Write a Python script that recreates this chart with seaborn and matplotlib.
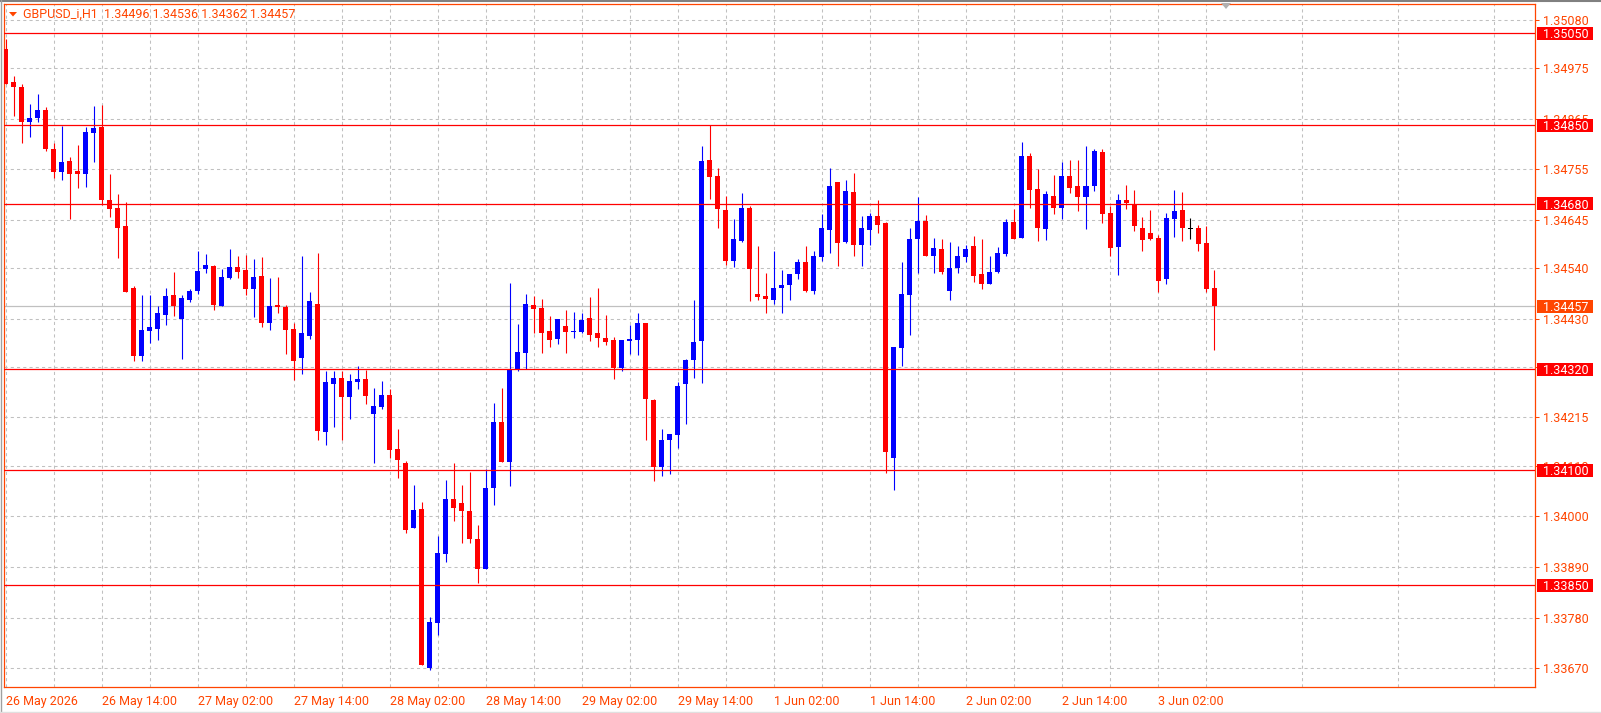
import numpy as np
import pandas as pd
import seaborn as sns
import matplotlib.pyplot as plt
import matplotlib.patches as mpatches
import matplotlib.transforms as mtransforms

# GBPUSD_i, H1 bars: 26 May 02:00 .. 3 Jun 09:00
opens = [1.35017, 1.34945, 1.34933, 1.34858, 1.34866, 1.34883, 1.34799, 1.34749, 1.34772, 1.34751,
         1.34745, 1.34834, 1.34846, 1.34688, 1.34670, 1.34631, 1.34496, 1.34349, 1.34404, 1.34408,
         1.34438, 1.34481, 1.34430, 1.34470, 1.34491, 1.34537, 1.34545, 1.34458, 1.34519, 1.34542,
         1.34536, 1.34495, 1.34523, 1.34421, 1.34460, 1.34456, 1.34408, 1.34345, 1.34392, 1.34462,
         1.34184, 1.34288, 1.34301, 1.34260, 1.34292, 1.34299, 1.34223, 1.34238, 1.34264, 1.34147,
         1.34116, 1.33974, 1.34016, 1.33671, 1.33769, 1.33919, 1.34038, 1.34029, 1.34012, 1.33951,
         1.33885, 1.34061, 1.34206, 1.34119, 1.34321, 1.34356, 1.34460, 1.34453, 1.34403, 1.34386,
         1.34414, 1.34400, 1.34401, 1.34432, 1.34398, 1.34387, 1.34383, 1.34322, 1.34381, 1.34383,
         1.34420, 1.34254, 1.34107, 1.34167, 1.34176, 1.34288, 1.34340, 1.34381, 1.34774, 1.34739,
         1.34667, 1.34555, 1.34599, 1.34670, 1.34483, 1.34480, 1.34470, 1.34496, 1.34502, 1.34526,
         1.34554, 1.34489, 1.34563, 1.34623, 1.34726, 1.34597, 1.34706, 1.34591, 1.34623, 1.34652,
         1.34637, 1.34126, 1.34367, 1.34482, 1.34602, 1.34643, 1.34567, 1.34582, 1.34491, 1.34539,
         1.34563, 1.34587, 1.34526, 1.34506, 1.34531, 1.34570, 1.34640, 1.34605, 1.34783, 1.34712,
         1.34625, 1.34696, 1.34670, 1.34740, 1.34718, 1.34694, 1.34718, 1.34792, 1.34659, 1.34585,
         1.34688, 1.34680, 1.34627, 1.34616, 1.34605, 1.34516, 1.34646, 1.34666, 1.34625, 1.34627,
         1.34594, 1.34496]
highs = [1.35037, 1.34957, 1.34940, 1.34896, 1.34918, 1.34889, 1.34812, 1.34849, 1.34781, 1.34807,
         1.34846, 1.34892, 1.34894, 1.34744, 1.34701, 1.34683, 1.34501, 1.34481, 1.34481, 1.34457,
         1.34497, 1.34532, 1.34481, 1.34494, 1.34577, 1.34571, 1.34547, 1.34537, 1.34582, 1.34566,
         1.34569, 1.34560, 1.34564, 1.34519, 1.34521, 1.34460, 1.34421, 1.34566, 1.34488, 1.34573,
         1.34316, 1.34316, 1.34316, 1.34310, 1.34327, 1.34319, 1.34279, 1.34295, 1.34277, 1.34190,
         1.34121, 1.34069, 1.34032, 1.33782, 1.33958, 1.34079, 1.34116, 1.34069, 1.34097, 1.33982,
         1.34103, 1.34247, 1.34279, 1.34508, 1.34419, 1.34484, 1.34479, 1.34473, 1.34436, 1.34429,
         1.34449, 1.34445, 1.34442, 1.34477, 1.34496, 1.34437, 1.34389, 1.34383, 1.34417, 1.34443,
         1.34420, 1.34256, 1.34191, 1.34180, 1.34293, 1.34343, 1.34470, 1.34806, 1.34852, 1.34757,
         1.34696, 1.34646, 1.34702, 1.34674, 1.34587, 1.34530, 1.34578, 1.34535, 1.34528, 1.34560,
         1.34587, 1.34576, 1.34658, 1.34758, 1.34726, 1.34732, 1.34747, 1.34652, 1.34660, 1.34687,
         1.34639, 1.34369, 1.34554, 1.34628, 1.34695, 1.34656, 1.34606, 1.34602, 1.34597, 1.34587,
         1.34591, 1.34610, 1.34604, 1.34566, 1.34585, 1.34646, 1.34668, 1.34814, 1.34790, 1.34755,
         1.34707, 1.34742, 1.34770, 1.34775, 1.34775, 1.34805, 1.34799, 1.34799, 1.34675, 1.34701,
         1.34720, 1.34709, 1.34651, 1.34666, 1.34612, 1.34659, 1.34709, 1.34705, 1.34649, 1.34633,
         1.34631, 1.34536]
lows = [1.34941, 1.34870, 1.34812, 1.34825, 1.34858, 1.34795, 1.34736, 1.34731, 1.34646, 1.34714,
        1.34717, 1.34771, 1.34678, 1.34651, 1.34562, 1.34488, 1.34338, 1.34338, 1.34378, 1.34383,
        1.34416, 1.34436, 1.34343, 1.34467, 1.34483, 1.34530, 1.34448, 1.34458, 1.34516, 1.34519,
        1.34482, 1.34434, 1.34412, 1.34406, 1.34443, 1.34353, 1.34297, 1.34310, 1.34386, 1.34166,
        1.34156, 1.34195, 1.34166, 1.34212, 1.34277, 1.34245, 1.34116, 1.34234, 1.34127, 1.34084,
        1.33963, 1.33974, 1.33676, 1.33667, 1.33741, 1.33900, 1.33991, 1.33943, 1.33943, 1.33856,
        1.33885, 1.34024, 1.34119, 1.34067, 1.34317, 1.34321, 1.34399, 1.34356, 1.34369, 1.34375,
        1.34356, 1.34388, 1.34399, 1.34382, 1.34368, 1.34373, 1.34299, 1.34316, 1.34354, 1.34350,
        1.34167, 1.34077, 1.34088, 1.34092, 1.34149, 1.34200, 1.34301, 1.34290, 1.34691, 1.34628,
        1.34546, 1.34542, 1.34596, 1.34468, 1.34470, 1.34443, 1.34462, 1.34443, 1.34471, 1.34517,
        1.34487, 1.34484, 1.34556, 1.34573, 1.34545, 1.34595, 1.34567, 1.34545, 1.34591, 1.34617,
        1.34095, 1.34058, 1.34326, 1.34395, 1.34530, 1.34567, 1.34530, 1.34526, 1.34471, 1.34530,
        1.34552, 1.34510, 1.34495, 1.34506, 1.34529, 1.34566, 1.34603, 1.34605, 1.34670, 1.34599,
        1.34601, 1.34657, 1.34646, 1.34703, 1.34664, 1.34625, 1.34707, 1.34638, 1.34566, 1.34525,
        1.34668, 1.34620, 1.34577, 1.34601, 1.34488, 1.34505, 1.34607, 1.34599, 1.34603, 1.34577,
        1.34488, 1.34362]
closes = [1.34941, 1.34934, 1.34858, 1.34866, 1.34883, 1.34799, 1.34749, 1.34770, 1.34745, 1.34745,
          1.34835, 1.34844, 1.34688, 1.34669, 1.34628, 1.34488, 1.34349, 1.34405, 1.34412, 1.34442,
          1.34479, 1.34457, 1.34475, 1.34490, 1.34533, 1.34547, 1.34460, 1.34521, 1.34542, 1.34532,
          1.34495, 1.34521, 1.34421, 1.34458, 1.34456, 1.34406, 1.34338, 1.34399, 1.34469, 1.34186,
          1.34292, 1.34301, 1.34260, 1.34295, 1.34299, 1.34262, 1.34240, 1.34264, 1.34145, 1.34123,
          1.33971, 1.34014, 1.33676, 1.33771, 1.33921, 1.34038, 1.34019, 1.34011, 1.33950, 1.33885,
          1.34062, 1.34206, 1.34119, 1.34319, 1.34358, 1.34462, 1.34451, 1.34399, 1.34384, 1.34429,
          1.34401, 1.34401, 1.34427, 1.34395, 1.34388, 1.34379, 1.34322, 1.34383, 1.34385, 1.34420,
          1.34255, 1.34107, 1.34167, 1.34178, 1.34283, 1.34341, 1.34380, 1.34772, 1.34738, 1.34668,
          1.34555, 1.34602, 1.34670, 1.34538, 1.34477, 1.34472, 1.34496, 1.34502, 1.34526, 1.34554,
          1.34491, 1.34567, 1.34626, 1.34719, 1.34595, 1.34708, 1.34591, 1.34626, 1.34652, 1.34634,
          1.34139, 1.34369, 1.34484, 1.34604, 1.34643, 1.34567, 1.34584, 1.34532, 1.34541, 1.34567,
          1.34582, 1.34523, 1.34506, 1.34531, 1.34572, 1.34640, 1.34603, 1.34783, 1.34709, 1.34627,
          1.34701, 1.34670, 1.34740, 1.34714, 1.34694, 1.34718, 1.34794, 1.34657, 1.34583, 1.34688,
          1.34681, 1.34631, 1.34601, 1.34603, 1.34512, 1.34649, 1.34664, 1.34627, 1.34625, 1.34592,
          1.34494, 1.34457]

time_labels = ["26 May 2026", "26 May 14:00", "27 May 02:00", "27 May 14:00", "28 May 02:00",
               "28 May 14:00", "29 May 02:00", "29 May 14:00", "1 Jun 02:00", "1 Jun 14:00",
               "2 Jun 02:00", "2 Jun 14:00", "3 Jun 02:00"]
price_ticks = [1.35080, 1.34975, 1.34865, 1.34755, 1.34645, 1.34540, 1.34430, 1.34325,
               1.34215, 1.34110, 1.34000, 1.33890, 1.33780, 1.33670]
levels = [1.35050, 1.34850, 1.34680, 1.34320, 1.34100, 1.33850]
last_price = 1.34457

bars = pd.DataFrame({"open": opens, "high": highs, "low": lows, "close": closes})
bars["x"] = np.arange(len(bars))
bars["color"] = np.where(bars.close > bars.open, "#0000FF",
                         np.where(bars.close < bars.open, "#FF0000", "#000000"))

sns.set_style("white")
plt.rcParams["font.family"] = ["Roboto", "DejaVu Sans"]
fg = "#FF4500"
W, H = 1601, 713

fig = plt.figure(figsize=(W / 100, H / 100), dpi=100)
ax = fig.add_axes([4 / W, 26 / H, 1531 / W, 683 / H])
ax.set_facecolor("white")

# candles
ax.vlines(bars.x, bars.low, bars.high, colors=bars.color, lw=0.8, zorder=3)
body = np.maximum((bars.close - bars.open).abs(), 0.00002)
ax.bar(bars.x, body, bottom=np.minimum(bars.open, bars.close), width=0.625,
       color=bars.color, lw=0, zorder=4)

ax.set_xlim(-0.19, 191.1)
ax.set_ylim(1.33629, 1.35114)

# axes / ticks
ax.yaxis.tick_right()
ax.set_yticks(price_ticks)
ax.set_yticklabels([f"{p:.5f}" for p in price_ticks])
ax.set_xticks(range(0, 12 * len(time_labels), 12))
ax.set_xticklabels(time_labels, ha="left")
ax.set_xticks(range(6, 192, 12), minor=True)
ax.tick_params(axis="both", which="major", colors=fg, labelsize=9, width=0.75)
ax.tick_params(axis="y", length=3, pad=3)
ax.tick_params(axis="x", length=4, pad=2)
ax.tick_params(axis="x", which="minor", length=0)
ax.grid(True, axis="x", which="both", color="#C0C0C0", lw=0.75, ls=(0, (3, 3)))
ax.grid(True, axis="y", which="major", color="#C0C0C0", lw=0.75, ls=(0, (3, 3)))
for s in ax.spines.values():
    s.set_color(fg)
    s.set_linewidth(0.9)

# levels with price boxes
trans = mtransforms.blended_transform_factory(ax.transAxes, ax.transData)
px = (1.35114 - 1.33629) / 683
box_x, box_w, lab_x = 1533 / 1531, 56 / 1531, 1539 / 1531


def price_box(y, face):
    ax.add_patch(mpatches.Rectangle((box_x, y - 6.5 * px), box_w, 13 * px, transform=trans,
                                    fc=face, ec="none", clip_on=False, zorder=6))
    ax.text(lab_x, y, f"{y:.5f}", transform=trans, color="white", fontsize=9,
            va="center_baseline", ha="left", zorder=7, clip_on=False)


for lv in levels:
    ax.axhline(lv, color="#FF0000", lw=0.9, zorder=5)
    price_box(lv, "#FF0000")
ax.axhline(last_price, color="#C0C0C0", lw=0.9, zorder=2)
price_box(last_price, fg)

# header
fig.text(23 / W, 1 - 18 / H, "GBPUSD_i,H1  1.34496 1.34536 1.34362 1.34457",
         color=fg, fontsize=9, va="baseline", ha="left")
fig.patches.append(mpatches.Polygon([(9 / W, 1 - 12 / H), (17 / W, 1 - 12 / H), (13 / W, 1 - 16.5 / H)],
                                    closed=True, fc=fg, ec="none", transform=fig.transFigure))
fig.patches.append(mpatches.Polygon([(1221 / W, 1 - 3 / H), (1231 / W, 1 - 3 / H), (1226 / W, 1 - 9 / H)],
                                    closed=True, fc="#B0B0B0", ec="none", transform=fig.transFigure))
fig.add_artist(plt.Line2D([0, 1], [1 - 1 / H, 1 - 1 / H], transform=fig.transFigure, color="#808080", lw=1.5))
fig.add_artist(plt.Line2D([0.5 / W, 0.5 / W], [0, 1], transform=fig.transFigure, color="#A0A0A0", lw=1))
fig.add_artist(plt.Line2D([0, 1], [1.5 / H, 1.5 / H], transform=fig.transFigure, color="#E0E0E0", lw=1))

fig.savefig("out.png", dpi=100)
